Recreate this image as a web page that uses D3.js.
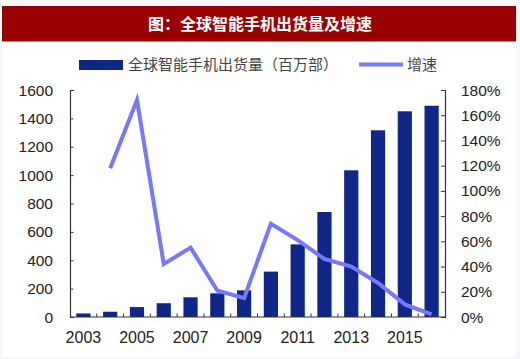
<!DOCTYPE html>
<html><head><meta charset="utf-8">
<script src="https://cdn.jsdelivr.net/npm/d3@7"></script>
<style>
html,body{margin:0;padding:0;background:#f5f7fb;}
svg{display:block;}
</style></head>
<body>
<svg id="c" width="520" height="359"></svg>
<script>
const years = ["2003","2004","2005","2006","2007","2008","2009","2010","2011","2012","2013","2014","2015","2016"];
const shipments = [25, 37, 70, 97, 139, 167, 188, 320, 512, 740, 1034, 1316, 1450, 1489];
const growth = [null, 118, 172, 42, 55, 21, 15, 74, 61, 46, 40, 27, 10, 2];
const xLabels = ["2003","2005","2007","2009","2011","2013","2015"];
const leftTicks = [0,200,400,600,800,1000,1200,1400,1600];
const rightTicks = [0,20,40,60,80,100,120,140,160,180];
const title = "图：全球智能手机出货量及增速";
const legendBar = "全球智能手机出货量（百万部）";
const legendLine = "增速";

const svg = d3.select("#c");
const font = "'Liberation Sans', Arial, sans-serif";
const cjk = "'Noto Sans CJK SC', sans-serif";

svg.append("rect").attr("x",2).attr("y",41).attr("width",514).attr("height",316).attr("fill","#ffffff");
svg.append("rect").attr("x",2).attr("y",6).attr("width",514).attr("height",35.5).attr("fill","#990000");
svg.append("text").attr("x",260).attr("y",29.5).attr("text-anchor","middle")
  .attr("font-family",cjk).attr("font-weight","bold").attr("font-size",16).attr("fill","#fff").text(title);

const L = 70, R = 445, T = 90, B = 317;
const x = d3.scaleBand().domain(years).range([L,R]).paddingInner(0.47).paddingOuter(0.235);
const yL = d3.scaleLinear().domain([0,1600]).range([B,T]);
const yR = d3.scaleLinear().domain([0,180]).range([B,T]);

// bars
svg.append("g").selectAll("rect").data(years).join("rect")
  .attr("x", d=>x(d)).attr("width", x.bandwidth())
  .attr("y", (d,i)=>yL(shipments[i])).attr("height",(d,i)=>B-yL(shipments[i]))
  .attr("fill","#0f2789");

// line
const pts = years.map((d,i)=>[x(d)+x.bandwidth()/2, growth[i]]).filter(p=>p[1]!=null);
svg.append("path").datum(pts)
  .attr("d", d3.line().x(p=>p[0]).y(p=>yR(p[1])))
  .attr("fill","none").attr("stroke","#7777ff").attr("stroke-width",4).attr("stroke-linejoin","miter");

// left axis
const gl = svg.append("g").attr("transform",`translate(${L},0)`)
  .call(d3.axisRight(yL).tickValues(leftTicks).tickSize(3.5).tickFormat(""));
gl.select(".domain").attr("stroke","#333").attr("stroke-width",1.2);
gl.selectAll(".tick line").attr("stroke","#333");
svg.append("g").selectAll("text").data(leftTicks).join("text")
  .attr("x",53).attr("y",d=>yL(d)+5.5).attr("text-anchor","end")
  .attr("font-family",font).attr("font-size",15.5).attr("fill","#222").text(d=>d);

// right axis
const gr = svg.append("g").attr("transform",`translate(${R},0)`)
  .call(d3.axisLeft(yR).tickValues(rightTicks).tickSize(4).tickFormat(""));
gr.select(".domain").attr("stroke","#333").attr("stroke-width",1.2);
gr.selectAll(".tick line").attr("stroke","#333");
svg.append("g").selectAll("text").data(rightTicks).join("text")
  .attr("x",461).attr("y",d=>yR(d)+5.5).attr("text-anchor","start")
  .attr("font-family",font).attr("font-size",15.5).attr("fill","#222").text(d=>d+"%");

// bottom axis
const gap = (x.step()-x.bandwidth())/2;
svg.append("line").attr("x1",L).attr("x2",R).attr("y1",B).attr("y2",B).attr("stroke","#333").attr("stroke-width",1.2);
svg.append("g").selectAll("line").data(years.slice(1)).join("line")
  .attr("x1",d=>x(d)-gap).attr("x2",d=>x(d)-gap).attr("y1",B).attr("y2",B-3.5).attr("stroke","#333");
svg.append("g").selectAll("text").data(xLabels).join("text")
  .attr("x",d=>x(d)+x.bandwidth()/2).attr("y",343).attr("text-anchor","middle")
  .attr("font-family",font).attr("font-size",16).attr("fill","#222").text(d=>d);

// legend
svg.append("rect").attr("x",79).attr("y",60).attr("width",44).attr("height",10).attr("fill","#0f2789");
svg.append("text").attr("x",128).attr("y",70).attr("font-family",cjk).attr("font-size",15).attr("fill","#444").text(legendBar);
svg.append("line").attr("x1",359).attr("x2",403).attr("y1",64.5).attr("y2",64.5).attr("stroke","#7777ff").attr("stroke-width",4);
svg.append("text").attr("x",407).attr("y",70).attr("font-family",cjk).attr("font-size",15).attr("fill","#444").text(legendLine);
</script>
</body></html>
